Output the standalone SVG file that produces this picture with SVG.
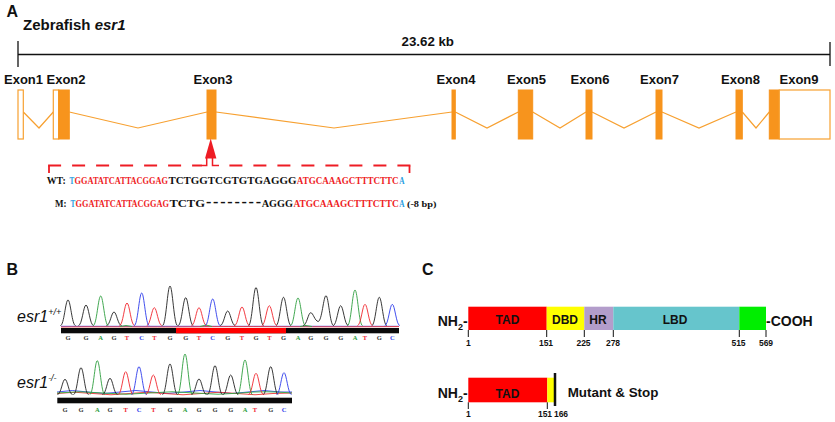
<svg xmlns="http://www.w3.org/2000/svg" width="835" height="422" viewBox="0 0 835 422">
<style>
.lbl{font-family:"Liberation Sans",Arial,sans-serif;font-weight:bold;fill:#111}
.it{font-family:"Liberation Sans",Arial,sans-serif;font-weight:normal;font-style:italic;font-size:16px;fill:#111}
.ex{font-family:"Liberation Sans",Arial,sans-serif;font-weight:bold;font-size:13px;fill:#111;text-anchor:middle}
.exf{fill:#F7941D;stroke:#F7941D;stroke-width:1}
.exo{fill:#fff;stroke:#F7A030;stroke-width:1.2}
.intr{fill:none;stroke:#F7A030;stroke-width:1.2}
.seq{font-family:"Liberation Serif","Times New Roman",serif;font-weight:bold;font-size:11px}
.r{fill:#EE1C24}.b{fill:#1E9BE0}.k{fill:#111}
.pk{fill:none;stroke-width:0.9}
.pG{stroke:#222}.pA{stroke:#2E9E3E}.pT{stroke:#F0262E}.pC{stroke:#2D3BEB}
.nt{font-family:"Liberation Serif",serif;font-weight:bold;font-size:6.5px;text-anchor:middle}
.tG{fill:#333}.tA{fill:#2E9E3E}.tT{fill:#F0262E}.tC{fill:#2D3BEB}
.num{font-family:"Liberation Sans",Arial,sans-serif;font-weight:bold;font-size:8.5px;fill:#111;text-anchor:middle}
.dom{font-family:"Liberation Sans",Arial,sans-serif;font-weight:bold;font-size:12px;fill:#111;text-anchor:middle}
.tick{stroke:#111;stroke-width:1}
.brk{fill:none;stroke:#EE1C24;stroke-width:1.8}
</style>

<!-- Panel A -->
<g id="panelA">
  <text class="lbl" x="6.5" y="16.5" font-size="16">A</text>
  <text class="lbl" x="23" y="29.5" font-size="15">Zebrafish <tspan font-style="italic">esr1</tspan></text>
  <g id="scale">
    <line x1="18" y1="54.5" x2="830" y2="54.5" stroke="#111" stroke-width="1.3"/>
    <line x1="18" y1="41" x2="18" y2="67" stroke="#111" stroke-width="1.3"/>
    <line x1="830" y1="42" x2="830" y2="66" stroke="#111" stroke-width="1.3"/>
    <text class="lbl" x="401.5" y="46" font-size="13.3">23.62 kb</text>
  </g>
  <g id="introns">
    <polyline class="intr" points="23.3,112 39,128 53.3,112"/>
    <polyline class="intr" points="69.3,112 138,128 207,112"/>
    <polyline class="intr" points="216,112 334,128 452,112"/>
    <polyline class="intr" points="455.3,112 487,128 518.3,112"/>
    <polyline class="intr" points="532.7,112 560,128 586,112"/>
    <polyline class="intr" points="592,112 624,128 656,112"/>
    <polyline class="intr" points="662,112 699,128 736,112"/>
    <polyline class="intr" points="742.3,112 756,128 769.3,112"/>
  </g>
  <g id="exon1"><text class="ex" x="23.5" y="84">Exon1</text><rect class="exo" x="18" y="90" width="5.3" height="49"/></g>
  <g id="exon2"><text class="ex" x="66" y="84">Exon2</text><rect class="exo" x="53.3" y="90" width="5.4" height="49"/><rect class="exf" x="58.7" y="90" width="10.6" height="49"/></g>
  <g id="exon3"><text class="ex" x="213" y="84">Exon3</text><rect class="exf" x="207" y="90" width="9" height="49"/></g>
  <g id="exon4"><text class="ex" x="456" y="84">Exon4</text><rect class="exf" x="452" y="90" width="3.3" height="49"/></g>
  <g id="exon5"><text class="ex" x="526.5" y="84">Exon5</text><rect class="exf" x="518.3" y="90" width="14.4" height="49"/></g>
  <g id="exon6"><text class="ex" x="590" y="84">Exon6</text><rect class="exf" x="586" y="90" width="6" height="49"/></g>
  <g id="exon7"><text class="ex" x="659.5" y="84">Exon7</text><rect class="exf" x="656" y="90" width="6" height="49"/></g>
  <g id="exon8"><text class="ex" x="740.5" y="84">Exon8</text><rect class="exf" x="736" y="90" width="6.3" height="49"/></g>
  <g id="exon9"><text class="ex" x="799" y="84">Exon9</text><rect class="exf" x="769.3" y="90" width="10" height="49"/><rect class="exo" x="779.3" y="90" width="50.7" height="49"/></g>

  <g id="target">
    <line class="brk" x1="49" y1="165.5" x2="49" y2="173"/>
    <line class="brk" x1="409.5" y1="165.5" x2="409.5" y2="173"/>
    <line class="brk" x1="48.1" y1="165.5" x2="202" y2="165.5" stroke-dasharray="13 11"/>
    <line class="brk" x1="410.4" y1="165.5" x2="219" y2="165.5" stroke-dasharray="13 11"/>
    <polygon points="210.7,138.5 205,158.5 216.4,158.5" fill="#EE1C24"/>
    <polyline points="202,165.5 206.7,165.5 206.7,158" fill="none" stroke="#EE1C24" stroke-width="1.5"/>
    <polyline points="212.5,158 212.5,165.5 219,165.5" fill="none" stroke="#EE1C24" stroke-width="1.5"/>
  </g>
  <g id="wt">
    <text class="seq" y="184.3"><tspan class="k" x="46.7" textLength="19" lengthAdjust="spacingAndGlyphs">WT:</tspan><tspan class="b" x="69.5" textLength="4.8" lengthAdjust="spacingAndGlyphs">T</tspan><tspan class="r" x="74.6" textLength="93.4" lengthAdjust="spacingAndGlyphs">GGATATCATTACGGAG</tspan><tspan class="k" x="168.4" textLength="128" lengthAdjust="spacingAndGlyphs">TCTGGTCGTGTGAGGG</tspan><tspan class="r" x="296.8" textLength="101.8" lengthAdjust="spacingAndGlyphs">ATGCAAAGCTTTCTTC</tspan><tspan class="b" x="399.2" textLength="5.3" lengthAdjust="spacingAndGlyphs">A</tspan></text>
  </g>
  <g id="mut">
    <text class="seq" y="207"><tspan class="k" x="55" textLength="11.5" lengthAdjust="spacingAndGlyphs">M:</tspan><tspan class="b" x="70.5" textLength="4.8" lengthAdjust="spacingAndGlyphs">T</tspan><tspan class="r" x="75.6" textLength="93.4" lengthAdjust="spacingAndGlyphs">GGATATCATTACGGAG</tspan><tspan class="k" x="169.4" textLength="35.5" lengthAdjust="spacingAndGlyphs">TCTG</tspan><tspan class="k" x="206" font-size="16" textLength="55" lengthAdjust="spacing">--------</tspan><tspan class="k" x="261.7" textLength="31.2" lengthAdjust="spacingAndGlyphs">AGGG</tspan><tspan class="r" x="293.4" textLength="105.3" lengthAdjust="spacingAndGlyphs">ATGCAAAGCTTTCTTC</tspan><tspan class="b" x="399.2" textLength="5.3" lengthAdjust="spacingAndGlyphs">A</tspan><tspan class="k" x="407" font-size="9" textLength="29.5" lengthAdjust="spacingAndGlyphs">(-8 bp)</tspan></text>
  </g>
</g>

<!-- Panel B -->
<g id="panelB">
  <text class="lbl" x="6.5" y="275" font-size="16">B</text>
  <g id="wt-trace">
    <text class="it" x="17" y="321.7">esr1<tspan font-size="9" dy="-7">+/+</tspan></text>
    <path class="pk" stroke="#3344ee" d="M61,326.3 H399"/>
    <path class="pk" stroke="#ee3333" d="M61,327 C120,326.5 150,327.3 200,326.8 S300,327.2 399,326.6"/>
    <path class="pk" stroke="#33aa44" d="M200,326.5 Q206,323.5 212,326.5 M120,326.5 Q126,324.5 132,326.5 M300,326.5 Q306,324.5 312,326.5"/>
    <path class="pk pG" d="M60.5,325.5 C64,325.5 65.5,300 68,300 C70.5,300 72,325.5 75.5,325.5 M78.5,325.5 C82,325.5 83.5,305 86,305 C88.5,305 90,325.5 93.5,325.5 M106.5,325.5 C110,325.5 111.5,312 114,312 C116.5,312 118,325.5 121.5,325.5 M162.5,325.5 C166,325.5 167.5,286 170,286 C172.5,286 174,325.5 177.5,325.5 M178.2,325.5 C181.7,325.5 183.2,297.7 185.7,297.7 C188.2,297.7 189.7,325.5 193.2,325.5 M220.2,325.5 C223.7,325.5 225.2,311 227.7,311 C230.2,311 231.7,325.5 235.2,325.5 M248.5,325.5 C252,325.5 253.5,287.5 256,287.5 C258.5,287.5 260,325.5 263.5,325.5 M276,325.5 C279.5,325.5 281,297.3 283.5,297.3 C286,297.3 287.5,325.5 291,325.5 M303.2,325.5 C306.7,325.5 308.2,312.7 310.7,312.7 C313.2,312.7 314.7,321 318.2,321.5 C322,321 323.5,295.7 326,295.7 C328.5,295.7 330,325.5 333.5,325.5 M333.2,325.5 C336.7,325.5 338.2,305.7 340.7,305.7 C343.2,305.7 344.7,325.5 348.2,325.5 M371.8,325.5 C375.3,325.5 376.8,297.3 379.3,297.3 C381.8,297.3 383.3,325.5 386.8,325.5"/>
    <path class="pk pA" d="M93.2,325.5 C96.7,325.5 98.2,296 100.7,296 C103.2,296 104.7,325.5 108.2,325.5 M290.5,325.5 C294,325.5 295.5,298 298,298 C300.5,298 302,325.5 305.5,325.5 M347.5,325.5 C351,325.5 352.5,290 355,290 C357.5,290 359,325.5 362.5,325.5"/>
    <path class="pk pT" d="M119.5,325.5 C123,325.5 124.5,303 127,303 C129.5,303 131,325.5 134.5,325.5 M146.8,325.5 C150.3,325.5 151.8,307.7 154.3,307.7 C156.8,307.7 158.3,325.5 161.8,325.5 M191.5,325.5 C195,325.5 196.5,307.7 199,307.7 C201.5,307.7 203,325.5 206.5,325.5 M234.5,325.5 C238,325.5 239.5,307 242,307 C244.5,307 246,325.5 249.5,325.5 M261.8,325.5 C265.3,325.5 266.8,305.7 269.3,305.7 C271.8,305.7 273.3,325.5 276.8,325.5 M357.5,325.5 C361,325.5 362.5,304.3 365,304.3 C367.5,304.3 369,325.5 372.5,325.5"/>
    <path class="pk pC" d="M134.2,325.5 C137.7,325.5 139.2,293 141.7,293 C144.2,293 145.7,325.5 149.2,325.5 M205.2,325.5 C208.7,325.5 210.2,299 212.7,299 C215.2,299 216.7,325.5 220.2,325.5 M384.8,325.5 C388.3,325.5 389.8,304.3 392.3,304.3 C394.8,304.3 396.3,325.5 399.8,325.5"/>
    <rect x="61" y="328" width="338" height="5.3" fill="#0a0a0a"/>
    <rect x="176" y="328" width="110" height="5.3" fill="#FF0000"/>
    <g class="nt">
      <text class="tG" x="68" y="340">G</text><text class="tG" x="86" y="340">G</text><text class="tA" x="100.7" y="340">A</text><text class="tG" x="114" y="340">G</text>
      <text class="tT" x="127" y="340">T</text><text class="tC" x="141.7" y="340">C</text><text class="tT" x="154.3" y="340">T</text><text class="tG" x="170" y="340">G</text>
      <text class="tG" x="185.7" y="340">G</text><text class="tT" x="199" y="340">T</text><text class="tC" x="212.7" y="340">C</text><text class="tG" x="227.7" y="340">G</text>
      <text class="tT" x="242" y="340">T</text><text class="tG" x="256" y="340">G</text><text class="tT" x="269.3" y="340">T</text><text class="tG" x="283.5" y="340">G</text>
      <text class="tA" x="298" y="340">A</text><text class="tG" x="310.7" y="340">G</text><text class="tG" x="326" y="340">G</text><text class="tG" x="340.7" y="340">G</text>
      <text class="tA" x="355" y="340">A</text><text class="tT" x="365" y="340">T</text><text class="tG" x="379.3" y="340">G</text><text class="tC" x="392.3" y="340">C</text>
    </g>
  </g>
  <g id="mut-trace">
    <text class="it" x="17" y="388.3">esr1<tspan font-size="9" dy="-7">-/-</tspan></text>
    <path class="pk" stroke="#3344ee" d="M57,392 Q72,389 88,392 T120,392 T152,392 T184,392 T216,392 T248,392 T280,392 L292,392"/>
    <path class="pk" stroke="#ee3333" d="M57,393.5 Q75,391 93,393.5 T129,393.5 T165,393.5 T201,393.5 T237,393.5 T273,393.5 L292,393"/>
    <path class="pk" stroke="#33aa44" d="M57,393 Q80,390.5 103,393 T149,393 T195,393 T241,393 T292,393"/>
    <path class="pk pG" d="M57.5,394.5 C61,394.5 62.5,379.3 65,379.3 C67.5,379.3 69,394.5 72.5,394.5 M73.5,394.5 C77,394.5 78.5,367.7 81,367.7 C83.5,367.7 85,394.5 88.5,394.5 M102.5,394.5 C106,394.5 107.5,378.3 110,378.3 C112.5,378.3 114,394.5 117.5,394.5 M162.5,394.5 C166,394.5 167.5,364 170,364 C172.5,364 174,394.5 177.5,394.5 M191.5,394.5 C195,394.5 196.5,379 199,379 C201.5,379 203,394.5 206.5,394.5 M207.5,394.5 C211,394.5 212.5,365.7 215,365.7 C217.5,365.7 219,394.5 222.5,394.5 M223.2,394.5 C226.7,394.5 228.2,375 230.7,375 C233.2,375 234.7,394.5 238.2,394.5 M263.2,394.5 C266.7,394.5 268.2,366.7 270.7,366.7 C273.2,366.7 274.7,394.5 278.2,394.5"/>
    <path class="pk pA" d="M89.8,394.5 C93.3,394.5 94.8,360.7 97.3,360.7 C99.8,360.7 101.3,394.5 104.8,394.5 M177.5,394.5 C181,394.5 182.5,354 185,354 C187.5,354 189,394.5 192.5,394.5 M237.5,394.5 C241,394.5 242.5,360 245,360 C247.5,360 249,394.5 252.5,394.5"/>
    <path class="pk pT" d="M118.2,394.5 C121.7,394.5 123.2,371.7 125.7,371.7 C128.2,371.7 129.7,394.5 133.2,394.5 M145.8,394.5 C149.3,394.5 150.8,375 153.3,375 C155.8,375 157.3,394.5 160.8,394.5 M248.5,394.5 C252,394.5 253.5,373.3 256,373.3 C258.5,373.3 260,394.5 263.5,394.5"/>
    <path class="pk pC" d="M131.5,394.5 C135,394.5 136.5,366.7 139,366.7 C141.5,366.7 143,394.5 146.5,394.5 M276.5,394.5 C280,394.5 281.5,372.7 284,372.7 C286.5,372.7 288,394.5 291.5,394.5"/>
    <rect x="57.3" y="397.7" width="234.7" height="5.6" fill="#0a0a0a"/>
    <g class="nt">
      <text class="tG" x="65" y="411.5">G</text><text class="tG" x="81" y="411.5">G</text><text class="tA" x="97.3" y="411.5">A</text><text class="tG" x="110" y="411.5">G</text>
      <text class="tT" x="125.7" y="411.5">T</text><text class="tC" x="139" y="411.5">C</text><text class="tT" x="153.3" y="411.5">T</text><text class="tG" x="170" y="411.5">G</text>
      <text class="tA" x="185" y="411.5">A</text><text class="tG" x="199" y="411.5">G</text><text class="tG" x="215" y="411.5">G</text><text class="tG" x="230.7" y="411.5">G</text>
      <text class="tA" x="245" y="411.5">A</text><text class="tT" x="255" y="411.5">T</text><text class="tG" x="270.7" y="411.5">G</text><text class="tC" x="284" y="411.5">C</text>
    </g>
  </g>
</g>

<!-- Panel C -->
<g id="panelC">
  <text class="lbl" x="422" y="275" font-size="16">C</text>
  <g id="wt-protein">
    <text class="lbl" x="437.7" y="326" font-size="14">NH<tspan font-size="9" dy="4">2</tspan><tspan dy="-4">-</tspan></text>
    <rect x="468.3" y="306.7" width="78.4" height="23.3" fill="#FF0000"/>
    <rect x="546.7" y="306.7" width="37.6" height="23.3" fill="#FFFF00"/>
    <rect x="584.3" y="306.7" width="29" height="23.3" fill="#B39DCB"/>
    <rect x="613.3" y="306.7" width="126" height="23.3" fill="#66C5CC"/>
    <rect x="739.3" y="306.7" width="26.7" height="23.3" fill="#00EE00"/>
    <text class="dom" x="507.5" y="324">TAD</text>
    <text class="dom" x="565" y="324">DBD</text>
    <text class="dom" x="598" y="324">HR</text>
    <text class="dom" x="675" y="324">LBD</text>
    <text class="lbl" x="766" y="326" font-size="14">-COOH</text>
    <g class="tick">
      <line x1="468.3" y1="330" x2="468.3" y2="337"/><line x1="546.7" y1="330" x2="546.7" y2="337"/>
      <line x1="584.3" y1="330" x2="584.3" y2="337"/><line x1="613.3" y1="330" x2="613.3" y2="337"/>
      <line x1="739.3" y1="330" x2="739.3" y2="337"/><line x1="766" y1="330" x2="766" y2="337"/>
    </g>
    <text class="num" x="468.3" y="345.5">1</text><text class="num" x="546" y="345.5">151</text>
    <text class="num" x="583.5" y="345.5">225</text><text class="num" x="613" y="345.5">278</text>
    <text class="num" x="738.5" y="345.5">515</text><text class="num" x="766" y="345.5">569</text>
  </g>
  <g id="mut-protein">
    <text class="lbl" x="437.7" y="398.3" font-size="14">NH<tspan font-size="9" dy="4">2</tspan><tspan dy="-4">-</tspan></text>
    <rect x="468.3" y="377.7" width="79" height="24.6" fill="#FF0000"/>
    <rect x="547.3" y="377.7" width="6.7" height="24.6" fill="#FFFF00"/>
    <line x1="555" y1="373" x2="555" y2="406" stroke="#111" stroke-width="2.5"/>
    <text class="dom" x="507.5" y="397.7">TAD</text>
    <text class="lbl" x="567.7" y="396.7" font-size="13.4">Mutant &amp; Stop</text>
    <g class="tick">
      <line x1="468.3" y1="402.3" x2="468.3" y2="409"/><line x1="547.3" y1="402.3" x2="547.3" y2="409"/>
    </g>
    <text class="num" x="468.3" y="417">1</text><text class="num" x="545" y="417">151</text><text class="num" x="561" y="417">166</text>
  </g>
</g>
</svg>
